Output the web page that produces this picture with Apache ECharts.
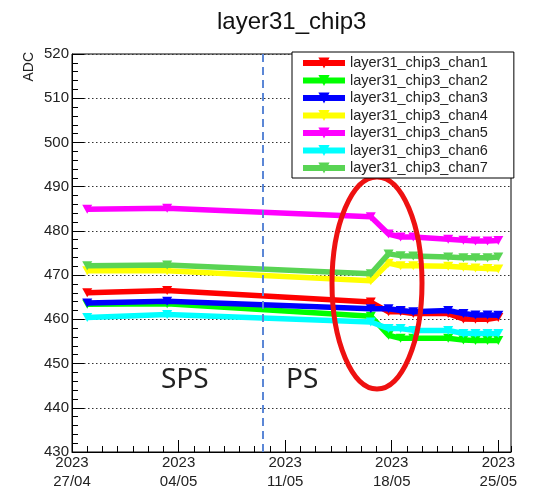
<!DOCTYPE html>
<html>
<head>
<meta charset="utf-8">
<script src="https://cdn.jsdelivr.net/npm/echarts@6/dist/echarts.min.js"></script>
<style>
  html, body { margin: 0; padding: 0; background: #fff; }
  #main { width: 538px; height: 491px; }
</style>
</head>
<body>
<div id="main"></div>
<script>
const times = ['2023-04-28 00:00', '2023-05-03 06:00', '2023-05-16 15:00', '2023-05-17 19:00',
    '2023-05-18 14:00', '2023-05-19 10:00', '2023-05-21 17:00', '2023-05-22 17:00',
    '2023-05-23 12:00', '2023-05-24 07:00', '2023-05-25 00:00'];
const channels = ['layer31_chip3_chan1', 'layer31_chip3_chan2', 'layer31_chip3_chan3',
    'layer31_chip3_chan4', 'layer31_chip3_chan5', 'layer31_chip3_chan6', 'layer31_chip3_chan7'];
const colors = ['#ff0000', '#00ff00', '#0000ff', '#ffff00', '#ff00ff', '#00ffff', '#59d454'];
const chan1 = [466.0, 466.5, 463.9, 461.7, 461.7, 461.3, 461.3, 460.1, 460.0, 460.0, 460.4];
const chan2 = [463.4, 463.5, 460.7, 456.4, 455.7, 455.7, 455.7, 455.3, 455.2, 455.2, 455.2];
const chan3 = [463.7, 464.1, 462.4, 462.4, 462.0, 461.7, 462.0, 461.3, 461.0, 461.0, 460.9];
const chan4 = [471.0, 471.0, 468.7, 472.7, 472.1, 472.1, 472.0, 471.8, 471.6, 471.5, 471.4];
const chan5 = [484.9, 485.1, 483.2, 479.3, 478.6, 478.6, 478.1, 477.9, 477.7, 477.7, 477.8];
const chan6 = [460.4, 461.1, 459.4, 457.9, 457.9, 457.5, 457.5, 456.8, 456.8, 456.8, 456.8];
const chan7 = [472.1, 472.3, 470.3, 474.8, 474.4, 474.3, 474.1, 473.9, 473.9, 473.9, 474.1];
const allChans = [chan1, chan2, chan3, chan4, chan5, chan6, chan7];

const xStart = '2023-04-27 00:00';
const xEnd = '2023-05-25 20:00';
const beamSwitch = '2023-05-09 12:00'; // SPS -> PS
const yTicks = [430, 520, 10];

const DAY = 86400000;
function toMs(s) {
    const [d, t] = s.split(' ');
    const [y, m, dd] = d.split('-').map(Number);
    const [hh, mm] = t.split(':').map(Number);
    return Date.UTC(y, m - 1, dd, hh, mm);
}
function pad(n) { return n < 10 ? '0' + n : '' + n; }

const font = 'Liberation Sans, Arial, sans-serif';
const chartDom = document.getElementById('main');
const myChart = echarts.init(chartDom);

const series = channels.map((name, i) => ({
    name: name,
    type: 'line',
    xAxisIndex: 0,
    data: times.map((t, j) => [toMs(t), allChans[i][j]]),
    symbol: 'triangle',
    symbolRotate: 180,
    symbolSize: [10, 9],
    showSymbol: true,
    color: colors[i],
    lineStyle: { width: 5.5, color: colors[i] },
    itemStyle: { color: colors[i] },
    z: 2 + i * 0.01,
    animation: false
}));

// dashed line marking the SPS -> PS change
series[0].markLine = {
    silent: true,
    symbol: 'none',
    label: { show: false },
    lineStyle: { color: '#5b87d6', type: [8, 5], width: 2 },
    data: [{ xAxis: toMs(beamSwitch) }]
};

const option = {
    animation: false,
    title: {
        text: 'layer31_chip3',
        left: 212,
        top: 5,
        textStyle: { fontFamily: font, fontSize: 24, fontWeight: 'normal', color: '#111' }
    },
    legend: {
        orient: 'vertical',
        left: 292,
        top: 52,
        padding: [3, 26, 2, 8],
        itemGap: 1.5,
        itemWidth: 42,
        itemHeight: 14,
        backgroundColor: '#fff',
        borderColor: '#000',
        borderWidth: 1,
        borderRadius: 0,
        lineStyle: { width: 6 },
        textStyle: { fontFamily: font, fontSize: 14.5, color: '#222', lineHeight: 16 },
        data: channels
    },
    grid: {
        left: 72, right: 27, top: 54, bottom: 37,
        show: true, borderColor: '#000', borderWidth: 1, backgroundColor: 'transparent'
    },
    xAxis: [{
        type: 'value',
        min: toMs(xStart),
        max: toMs(xEnd),
        interval: 7 * DAY,
        axisLine: { lineStyle: { color: '#000', width: 1 } },
        axisTick: { inside: true, length: 12, lineStyle: { color: '#000' } },
        splitLine: { show: false },
        axisLabel: {
            showMaxLabel: false,
            margin: 1,
            fontFamily: font, fontSize: 15, color: '#222', lineHeight: 19,
            formatter: v => {
                const d = new Date(v);
                return d.getUTCFullYear() + '\n' + pad(d.getUTCDate()) + '/' + pad(d.getUTCMonth() + 1);
            }
        }
    }, {
        // daily minor ticks
        type: 'value',
        position: 'bottom',
        min: toMs(xStart),
        max: toMs(xEnd),
        interval: DAY,
        axisLine: { show: false },
        axisTick: { inside: true, length: 6, lineStyle: { color: '#000' } },
        axisLabel: { show: false },
        splitLine: { show: false }
    }],
    yAxis: {
        type: 'value',
        min: yTicks[0],
        max: yTicks[1],
        interval: yTicks[2],
        axisLine: { show: true, lineStyle: { color: '#000', width: 1 } },
        axisTick: { show: true, inside: true, length: 12, lineStyle: { color: '#000' } },
        minorTick: { show: true, splitNumber: 5, length: 6, lineStyle: { color: '#000' } },
        splitLine: { show: true, lineStyle: { color: '#333', type: [1.5, 2.5], width: 1 } },
        axisLabel: { margin: 3, fontFamily: font, fontSize: 15, color: '#222' }
    },
    graphic: [
        {
            type: 'text', left: 22, top: 52, rotation: Math.PI / 2, z: 10,
            style: { text: 'ADC', font: '14px ' + font, fill: '#222' }
        },
        {
            type: 'text', left: 161, top: 366, z: 10,
            style: { text: 'SPS', font: '28px Noto Sans', fill: '#222' }
        },
        {
            type: 'text', left: 286, top: 366, z: 10,
            style: { text: 'PS', font: '28px Noto Sans', fill: '#222' }
        },
        {
            type: 'ellipse', z: 3,
            shape: { cx: 377, cy: 283, rx: 45, ry: 106 },
            style: { fill: 'none', stroke: '#ee1111', lineWidth: 5 }
        }
    ],
    series: series
};

myChart.setOption(option);
</script>
</body>
</html>
